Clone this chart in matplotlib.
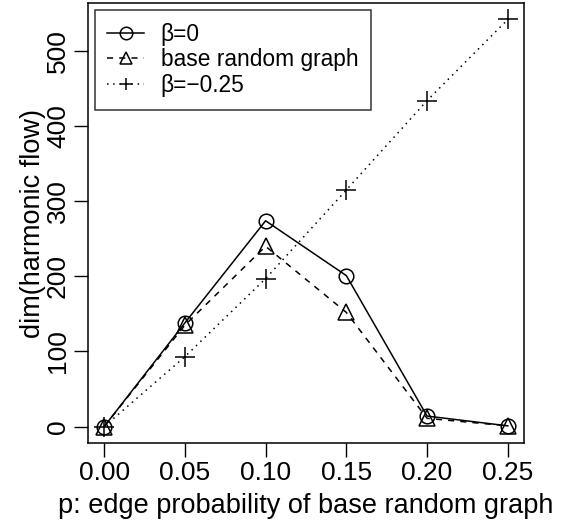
import matplotlib
matplotlib.use('Agg')
import matplotlib.pyplot as plt

plt.rcParams['font.family'] = ['Liberation Sans', 'DejaVu Sans']

p = [0.00, 0.05, 0.10, 0.15, 0.20, 0.25]
beta0 = [0, 138, 274, 201, 14, 1]
base = [0, 135, 240, 152, 11, 1]
beta_neg = [0, 93, 197, 315, 434, 542]

fig = plt.figure(figsize=(5.64, 5.26), dpi=100)
ax = fig.add_axes([0.156, 0.158, 0.773, 0.836])

ax.plot(p, beta0, color='black', lw=1.1, ls='-', marker='o', ms=10.5,
        mfc='none', mec='black', mew=1.1, label='β=0')
ax.plot(p, base, color='black', lw=1.1, ls=(0, (4, 4)), marker='^', ms=11.5,
        mfc='none', mec='black', mew=1.1, label='base random graph')
ax.plot(p, beta_neg, color='black', lw=1.1, ls=(0, (1, 3)), marker='+', ms=14,
        mec='black', mew=1.1, label='β=−0.25')

ax.set_xlim(-0.01, 0.26)
ax.set_ylim(-21.7, 563.7)
ax.set_xticks(p)
ax.set_xticklabels(['0.00', '0.05', '0.10', '0.15', '0.20', '0.25'])
ax.set_yticks([0, 100, 200, 300, 400, 500])
ax.set_yticklabels(['0', '100', '200', '300', '400', '500'], rotation=90, va='center')
ax.tick_params(direction='out', length=10, width=1, labelsize=19, pad=3)
for s in ax.spines.values():
    s.set_linewidth(1.1)

ax.set_xlabel('p: edge probability of base random graph', fontsize=19.5, labelpad=6)
ax.set_ylabel('dim(harmonic flow)', fontsize=19.5, labelpad=0)

leg = ax.legend(loc='upper left', fontsize=16.4, frameon=True, fancybox=False,
                edgecolor='black', handlelength=1.6, borderaxespad=0.3,
                labelspacing=0.12, handletextpad=0.75, borderpad=0.55)
leg.get_frame().set_linewidth(1.1)
for h in leg.legend_handles:
    h.set_markersize(9)

fig.savefig('out.png', dpi=100)
